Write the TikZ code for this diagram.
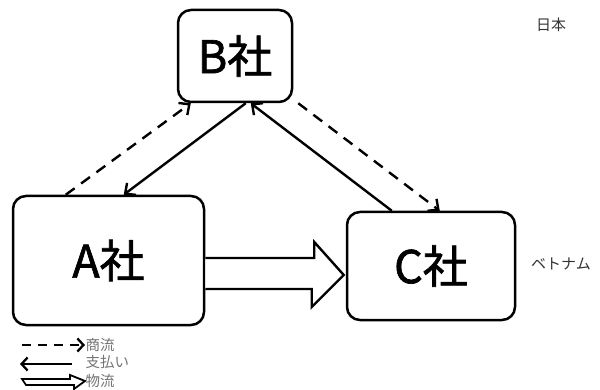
\documentclass[tikz,border=0pt]{standalone}
\usepackage{fontspec}
\setmainfont{Noto Sans CJK JP}
\newfontfamily\boxfont[FakeBold=1.5]{Noto Sans CJK JP}
\usetikzlibrary{arrows.meta,calc}
\begin{document}
\begin{tikzpicture}[x=1pt,y=-1pt,
  company/.style={draw=black,line width=2.5pt,rounded corners=13pt,fill=white,font=\boxfont\fontsize{45}{45}\selectfont,inner sep=0pt},
  conn/.style={line width=2.4pt,-{Straight Barb[length=8pt,width=15pt,line width=2.4pt]}},
  dashconn/.style={conn,dash pattern=on 11pt off 8pt},
  place/.style={font=\fontsize{15}{15}\selectfont,text=black!80},
  legtext/.style={font=\fontsize{14.5}{14.5}\selectfont,text=black!55,anchor=west,inner sep=0.5pt},
  bigarrow/.style={draw=black,line width=2.4pt,fill=white,line join=miter}
]
\useasboundingbox (0,0) rectangle (600,390);
\node[company,minimum width=114pt,minimum height=92pt] (B) at (235,56) {B社};
\node[company,minimum width=191pt,minimum height=129pt] (A) at (108.5,260.5) {A社};
\node[company,minimum width=168pt,minimum height=108pt] (C) at (431,266) {C社};
\node[place] (jp) at (551,25) {日本};
\node[place] (vn) at (561,264) {ベトナム};
% B <-> A
\draw[dashconn] ($(A.north west)+(54,0)$) -- ($(B.south west)+(14,0)$);
\draw[conn] ($(B.south west)+(69,0)$) -- ($(A.north west)+(112,0)$);
% B <-> C
\draw[conn] ($(C.north west)+(46,0)$) -- ($(B.south west)+(74,0)$);
\draw[dashconn] ($(B.south east)+(5,0)$) -- ($(C.north west)+(94,0)$);
% block arrow A -> C
\coordinate (s) at ($(A.east)+(0,-2.5)$);
\coordinate (t) at ($(C.west)+(-2,9)$);
\draw[bigarrow] (s) -- ++(109,0) -- ++(0,-16) -- (t) -- ($(t)+(-32,32)$) -- ++(0,-18) -- ($(s)+(0,31)$);
% legend
\coordinate (l1a) at (22,345);
\node[legtext] (l1) at (85,345) {商流};
\draw[line width=2.3pt,dash pattern=on 9pt off 7pt,-{Straight Barb[length=6pt,width=13pt,line width=2.3pt]}] (l1a) -- (l1.west);
\coordinate (l2a) at (72,364);
\node[legtext] (l2) at (85,362) {支払い};
\draw[line width=2.3pt,-{Straight Barb[length=6pt,width=13pt,line width=2.3pt]}] (l2a) -- (20,364);
\node[legtext] (l3) at (85,381) {物流};
\coordinate (l3a) at (22,382);
\draw[line width=1.8pt,fill=white] (l3a) ++(0,-3) -- ++(48,0) -- ++(0,-4) -- (l3.west) -- ++(-11,8) -- ++(0,-4) -- ++(-48,0) -- cycle;
\end{tikzpicture}
\end{document}
